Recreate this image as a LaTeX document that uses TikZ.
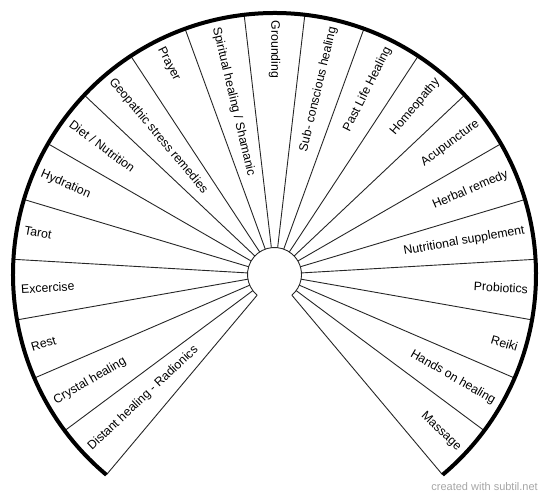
\documentclass[tikz,border=0pt]{standalone}
\usepackage{fontspec}
\setmainfont{Liberation Sans}
\begin{document}
\begin{tikzpicture}[x=1pt,y=1pt,
  rad/.style={line width=0.9pt, draw=black!85},
  rim/.style={line width=4pt, draw=black},
  lbl/.style={inner sep=0pt, font=\fontsize{12.3}{14}\selectfont},
  mark text/.style={inner sep=0pt, text=black!35, font=\fontsize{11}{13}\selectfont}]
\useasboundingbox (0,0) rectangle (550,498);
\coordinate (C) at (274.5,223.5);
\begin{scope}[shift={(C)}]
  \foreach \k in {0,...,21} {
    \pgfmathsetmacro\a{230-280/21*\k}
    \draw[rad] (\a:27) -- (\a:261.5);
  }
  \draw[rad] (230:27) arc[start angle=230, end angle=-50, radius=27];
  \draw[rim] (230:261.5) arc[start angle=230, end angle=-50, radius=261.5];
  \foreach \t [count=\i from 0] in {Distant healing - Radionics, Crystal healing, Rest, Excercise, Tarot, Hydration, Diet / Nutrition, Geopathic stress remedies, Prayer, Spiritual healing / Shamanic, Grounding} {
    \pgfmathsetmacro\a{230-280/21*(\i+0.5)}
    \node[lbl, anchor=west, rotate=\a+180] (L\i) at (\a:254) {\t};
  }
  \foreach \t [count=\i from 11] in {Sub- conscious healing, Past Life Healing, Homeopathy, Acupuncture, Herbal remedy, Nutritional supplement, Probiotics, Reiki, Hands on healing, Massage} {
    \pgfmathsetmacro\a{230-280/21*(\i+0.5)}
    \node[lbl, anchor=east, rotate=\a] (L\i) at (\a:254) {\t};
  }
\end{scope}
\node[mark text, anchor=east] (wm) at (538,11) {created with subtil.net};
\end{tikzpicture}
\end{document}
